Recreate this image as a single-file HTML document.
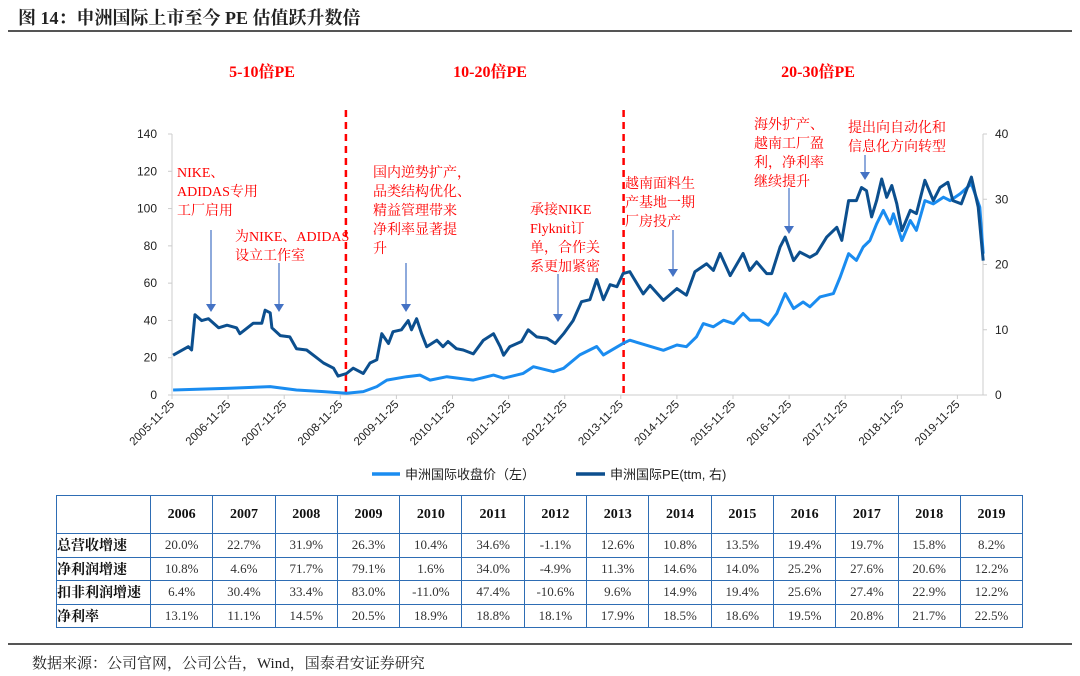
<!DOCTYPE html>
<html><head><meta charset="utf-8"><style>
body{margin:0;background:#fff;width:1080px;height:676px;overflow:hidden;position:relative;font-family:"Liberation Serif","Noto Serif CJK SC",serif;}
.title{position:absolute;left:18px;top:4px;font-size:18px;font-weight:bold;color:#222;}
.rule{position:absolute;left:8px;right:8px;height:1.5px;background:#555;}
table{position:absolute;left:56px;top:495px;width:966px;table-layout:fixed;border-collapse:collapse;font-family:"Liberation Serif","Noto Serif CJK SC",serif;}
td{border:1.5px solid #2e6db4;text-align:center;font-size:13px;color:#333;height:22.5px;padding:0;}
tr.h td{height:37px;font-weight:bold;font-size:14px;color:#111;}
td.l{text-align:left;font-weight:bold;font-size:14px;color:#111;}
.src{position:absolute;left:32px;top:652px;font-size:15px;color:#222;}
</style></head><body>
<div class="title">图 14：申洲国际上市至今 PE 估值跃升数倍</div>
<div class="rule" style="top:30px"></div>
<svg id="chart" width="1080" height="490" style="position:absolute;left:0;top:0"></svg>
<table>
<colgroup><col style="width:94px"><col span="14" style="width:62.3px"></colgroup>
<tr class="h"><td></td><td>2006</td><td>2007</td><td>2008</td><td>2009</td><td>2010</td><td>2011</td><td>2012</td><td>2013</td><td>2014</td><td>2015</td><td>2016</td><td>2017</td><td>2018</td><td>2019</td></tr>
<tr><td class="l">总营收增速</td><td>20.0%</td><td>22.7%</td><td>31.9%</td><td>26.3%</td><td>10.4%</td><td>34.6%</td><td>-1.1%</td><td>12.6%</td><td>10.8%</td><td>13.5%</td><td>19.4%</td><td>19.7%</td><td>15.8%</td><td>8.2%</td></tr>
<tr><td class="l">净利润增速</td><td>10.8%</td><td>4.6%</td><td>71.7%</td><td>79.1%</td><td>1.6%</td><td>34.0%</td><td>-4.9%</td><td>11.3%</td><td>14.6%</td><td>14.0%</td><td>25.2%</td><td>27.6%</td><td>20.6%</td><td>12.2%</td></tr>
<tr><td class="l">扣非利润增速</td><td>6.4%</td><td>30.4%</td><td>33.4%</td><td>83.0%</td><td>-11.0%</td><td>47.4%</td><td>-10.6%</td><td>9.6%</td><td>14.9%</td><td>19.4%</td><td>25.6%</td><td>27.4%</td><td>22.9%</td><td>12.2%</td></tr>
<tr><td class="l">净利率</td><td>13.1%</td><td>11.1%</td><td>14.5%</td><td>20.5%</td><td>18.9%</td><td>18.8%</td><td>18.1%</td><td>17.9%</td><td>18.5%</td><td>18.6%</td><td>19.5%</td><td>20.8%</td><td>21.7%</td><td>22.5%</td></tr>
</table>
<div class="rule" style="top:643px"></div>
<div class="src">数据来源：公司官网，公司公告，Wind，国泰君安证券研究</div>
<script>
const peDates=[2005.92,2006.19,2006.25,2006.31,2006.43,2006.55,2006.73,2006.88,2007.05,2007.11,2007.20,2007.35,2007.50,2007.56,2007.65,2007.68,2007.83,2008.00,2008.12,2008.30,2008.42,2008.60,2008.78,2008.86,2009.01,2009.13,2009.31,2009.43,2009.55,2009.64,2009.76,2009.84,2009.99,2010.11,2010.17,2010.26,2010.35,2010.44,2010.62,2010.73,2010.82,2010.97,2011.09,2011.27,2011.45,2011.63,2011.75,2011.81,2011.92,2012.13,2012.25,2012.40,2012.58,2012.73,2012.88,2013.05,2013.20,2013.35,2013.47,2013.59,2013.71,2013.83,2013.94,2014.06,2014.30,2014.42,2014.66,2014.90,2015.07,2015.22,2015.43,2015.55,2015.67,2015.85,2016.08,2016.20,2016.32,2016.50,2016.59,2016.74,2016.83,2016.98,2017.09,2017.27,2017.39,2017.57,2017.75,2017.84,2017.96,2018.10,2018.19,2018.28,2018.37,2018.46,2018.55,2018.64,2018.73,2018.82,2018.91,2019.06,2019.17,2019.32,2019.47,2019.59,2019.73,2019.82,2019.97,2020.15,2020.27,2020.36];
const peValues=[6.1,7.4,6.9,12.3,11.4,11.7,10.3,10.7,10.3,9.4,10,11,11,13,12.6,10.3,9.1,8.9,7.1,6.9,6.1,4.9,4.1,2.9,3.3,4.1,3.3,4.9,5.4,9.4,7.9,9.7,10,11.4,10,11.7,9.4,7.4,8.4,7.4,8.2,7.1,6.9,6.3,8.4,9.4,7.4,6.1,7.4,8.2,10,8.9,8.7,7.9,9.4,11.4,14.3,14.6,17.7,14.6,16.9,16.6,18.6,18.9,15.5,16.8,14.5,16.3,15.3,18.9,20.1,19.1,21.7,18.3,21.7,19.1,20.4,18.6,18.6,22.7,24.2,20.6,21.9,21.1,21.7,24.2,25.7,23.7,29.8,29.8,31.8,31.3,27.3,29.8,33.1,30.3,32.1,29.3,25.2,28.3,27.8,32.9,29.8,31.8,32.6,29.8,29.3,33.4,28.8,20.6];
const priceDates=[2005.92,2006.93,2007.65,2008.12,2008.60,2009.01,2009.31,2009.55,2009.73,2010.08,2010.32,2010.50,2010.80,2011.27,2011.63,2011.81,2012.16,2012.34,2012.70,2012.88,2013.17,2013.47,2013.59,2013.94,2014.06,2014.66,2014.90,2015.07,2015.25,2015.37,2015.55,2015.73,2015.91,2016.08,2016.20,2016.38,2016.53,2016.68,2016.83,2016.98,2017.15,2017.27,2017.45,2017.69,2017.81,2017.96,2018.10,2018.22,2018.34,2018.46,2018.58,2018.70,2018.76,2018.91,2019.06,2019.17,2019.32,2019.47,2019.65,2019.77,2019.95,2020.15,2020.30,2020.36];
const priceValues=[2.7,3.6,4.5,2.7,1.8,0.9,1.8,4.5,8,9.8,10.7,8,9.8,8,10.7,9,11.6,15.2,12.5,14.3,21.5,26,21.5,27.7,29.4,24,26.8,25.9,31.2,38.3,36.6,40.1,38.3,43.7,40.1,40.1,37.5,43.7,54.4,46.4,49.9,47.3,52.6,54.4,63.3,75.8,72.2,79.4,82.9,91.8,99,91.8,97.2,82.9,93.6,88.3,104.3,102.5,106.1,104.3,107.9,113.3,100.8,75.8];
const leftTicks=[0,20,40,60,80,100,120,140];
const rightTicks=[0,10,20,30,40];
const xTickLabels=["2005-11-25","2006-11-25","2007-11-25","2008-11-25","2009-11-25","2010-11-25","2011-11-25","2012-11-25","2013-11-25","2014-11-25","2015-11-25","2016-11-25","2017-11-25","2018-11-25","2019-11-25"];
const NS="http://www.w3.org/2000/svg";
const svg=document.getElementById('chart');
const X0=172,PX=56.1,Y0=395,TOP=134,R=983;
const xs=d=>X0+(d-2005.9)*PX;
const yL=v=>Y0-v/140*(Y0-TOP);
const yR=v=>Y0-v/40*(Y0-TOP);
function el(t,a,txt){const e=document.createElementNS(NS,t);for(const k in a)e.setAttribute(k,a[k]);if(txt!=null)e.textContent=txt;svg.appendChild(e);return e;}
let e;
e=el('line',{x1:X0,y1:TOP,x2:X0,y2:Y0,stroke:'#ccc'});


e=el('line',{x1:R,y1:TOP,x2:R,y2:Y0,stroke:'#ccc'});


e=el('line',{x1:X0,y1:Y0,x2:R,y2:Y0,stroke:'#ccc'});


leftTicks.forEach(v=>{
 el('line',{x1:X0-4,x2:X0,y1:yL(v),y2:yL(v),stroke:'#ccc'});
 e=el('text',{x:X0-15,y:yL(v)+4,'text-anchor':'end','font-size':12,'font-family':'Liberation Sans, sans-serif',fill:'#222'},v);
 
 
});
rightTicks.forEach(v=>{
 el('line',{x1:R,x2:R+4,y1:yR(v),y2:yR(v),stroke:'#ccc'});
 e=el('text',{x:R+12,y:yR(v)+4,'font-size':12,'font-family':'Liberation Sans, sans-serif',fill:'#222'},v);
 
 
});
xTickLabels.forEach((s,i)=>{
 const x=xs(2005.9+i);
 el('line',{x1:x,x2:x,y1:Y0,y2:Y0+4,stroke:'#ccc'});
 e=el('text',{x:x+3,y:Y0+10,'text-anchor':'end','font-size':11.5,'font-family':'Liberation Sans, sans-serif',fill:'#222',transform:`rotate(-45 ${x+3} ${Y0+10})`},s);
 
 
});
[2009.0,2013.95].forEach(d=>{
 e=el('line',{x1:xs(d),x2:xs(d),y1:110,y2:Y0,stroke:'#f00','stroke-width':2.5,'stroke-dasharray':'7,5'});
 
 
});
e=el('path',{d:priceDates.map((d,i)=>(i?'L':'M')+xs(d).toFixed(1)+','+yL(priceValues[i]).toFixed(1)).join(''),fill:'none',stroke:'#1a8cf0','stroke-width':3,'stroke-linejoin':'round'});


e=el('path',{d:peDates.map((d,i)=>(i?'L':'M')+xs(d).toFixed(1)+','+yR(peValues[i]).toFixed(1)).join(''),fill:'none',stroke:'#0c4f8e','stroke-width':3,'stroke-linejoin':'round'});


[['5-10倍PE',262],['10-20倍PE',490],['20-30倍PE',818]].forEach(p=>{
 e=el('text',{x:p[1],y:77,'text-anchor':'middle','font-size':16,'font-weight':'bold',fill:'#f00'},p[0]);
 
 
});
const notes=[[177,172,["NIKE、","ADIDAS专用","工厂启用"]],[235,236,["为NIKE、ADIDAS","设立工作室"]],[373,172,["国内逆势扩产，","品类结构优化、","精益管理带来","净利率显著提","升"]],[530,209,["承接NIKE","Flyknit订","单，合作关","系更加紧密"]],[625,183,["越南面料生","产基地一期","厂房投产"]],[754,124,["海外扩产、","越南工厂盈","利，净利率","继续提升"]],[848,127,["提出向自动化和","信息化方向转型"]]];
notes.forEach(n=>n[2].forEach((t,i)=>{
 e=el('text',{x:n[0],y:n[1]+5+i*19,'font-size':14,fill:'#f00'},t);
 
 
}));
[[211,230,312],[279,263,312],[406,263,312],[558,274,322],[673,230,277],[789,188,234],[865,155,180]].forEach(a=>{
 el('line',{x1:a[0],x2:a[0],y1:a[1],y2:a[2]-7,stroke:'#4472c4','stroke-width':1.2});
 e=el('polygon',{points:`${a[0]-5},${a[2]-8} ${a[0]+5},${a[2]-8} ${a[0]},${a[2]}`,fill:'#4472c4'});
 
 
});
e=el('line',{x1:372,x2:400,y1:474,y2:474,stroke:'#1a8cf0','stroke-width':3.5});


e=el('text',{x:405,y:479,'font-size':13,fill:'#222','font-family':'Liberation Sans, Noto Sans CJK SC, sans-serif'},'申洲国际收盘价（左）');


e=el('line',{x1:576,x2:605,y1:474,y2:474,stroke:'#0c4f8e','stroke-width':3.5});


e=el('text',{x:610,y:479,'font-size':13,fill:'#222','font-family':'Liberation Sans, Noto Sans CJK SC, sans-serif'},'申洲国际PE(ttm, 右)');


</script>
</body></html>
